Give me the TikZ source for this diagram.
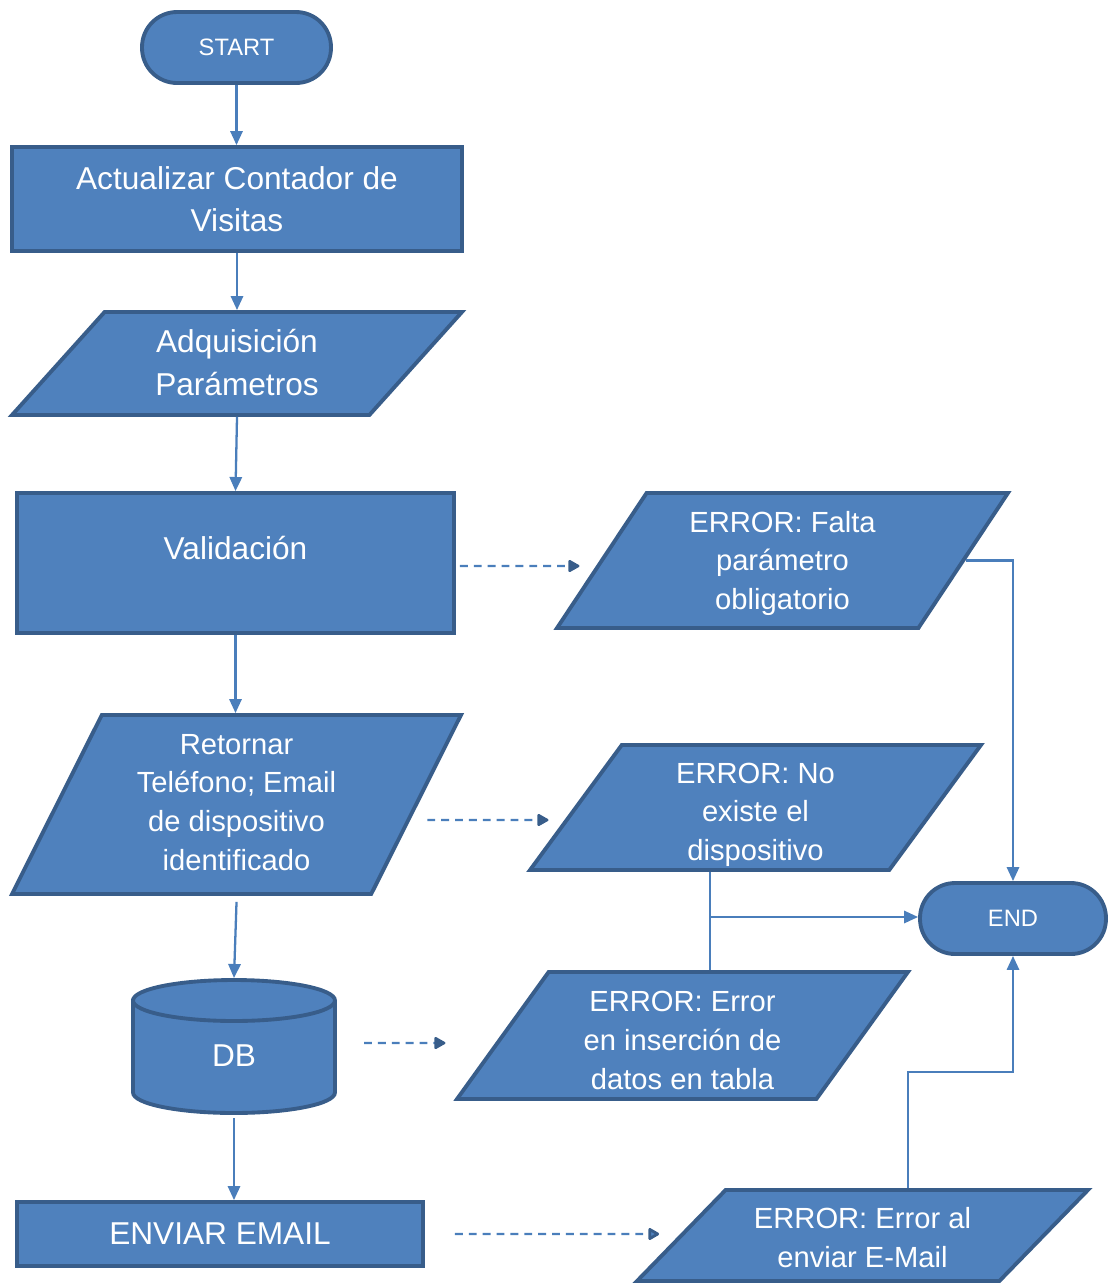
\documentclass[tikz,border=0pt]{standalone}
\usepackage{fontspec}
\setmainfont{Liberation Sans}
\usetikzlibrary{arrows.meta,shapes.geometric}
\definecolor{AzulRelleno}{RGB}{79,129,189}
\definecolor{AzulBorde}{RGB}{56,93,138}
\definecolor{AzulLinea}{RGB}{74,126,187}
\tikzset{
  basebox/.style={draw=AzulBorde, fill=AzulRelleno, line width=2.2pt,
    text=white, align=center, inner sep=3pt},
  termbox/.style={basebox, rectangle, rounded corners=0.7cm, minimum width=#1,
    minimum height=1.42cm, font=\fontsize{13.5}{16}\selectfont},
  procbox/.style 2 args={basebox, rectangle, minimum width=#1, minimum height=#2},
  iobox/.style n args={4}{basebox, trapezium, trapezium left angle=#1,
    trapezium right angle=#2, trapezium stretches body=true, minimum width=#3, minimum height=#4},
  cilindro/.style={draw=AzulBorde, fill=AzulRelleno, line width=2.2pt},
  dbtexto/.style={text=white, inner sep=0pt, outer sep=0pt,
    minimum width=4.12cm, minimum height=2.74cm},
  textogrande/.style={font=\fontsize{18}{24}\selectfont},
  textomedio/.style={font=\fontsize{16.6}{22}\selectfont},
  flecha/.style={-{Triangle[length=8pt, width=7pt]}, line width=1.3pt, AzulLinea},
  linea/.style={line width=1.3pt, AzulLinea},
  flechapunt/.style={-{Triangle[length=7pt, width=7.5pt, round, color=AzulBorde]},
    line width=1.3pt, AzulLinea, dash pattern=on 4.5pt off 3.4pt},
}

\begin{document}
\begin{tikzpicture}[x=0.02cm, y=-0.02cm]
  \useasboundingbox (0,0) rectangle (1109,1286);

  % columna principal
  \node[termbox=3.78cm] (start) at (236.5,47.5) {START};
  \node[procbox={9cm}{2.08cm}, textogrande] (actual) at (237,199) {Actualizar Contador de\\Visitas};
  \node[iobox={38.7}{141.3}{9cm}{2.06cm}, font=\fontsize{18}{24.4}\selectfont,
    text height=36.2pt, text depth=0pt] (adq) at (237,363.5) {Adquisición\\Parámetros};
  \node[procbox={8.74cm}{2.8cm}, textogrande, text height=0.44cm, text depth=0.6cm] (valid) at (235.5,563) {Validación};
  \node[iobox={57.7}{122.3}{8.98cm}{3.58cm}, textomedio, text height=74.8pt, text depth=0pt]
    (retornar) at (236.5,804.5) {Retornar\\Teléfono; Email\\de dispositivo\\identificado};

  % base de datos
  \filldraw[cilindro] (133,1000.5) -- (133,1092.5)
    arc[start angle=180, end angle=360, x radius=2.02cm, y radius=0.41cm] -- (335,1000.5)
    arc[start angle=0, end angle=180, x radius=2.02cm, y radius=0.41cm] -- cycle;
  \draw[cilindro, fill=none] (133,1000.5) arc[start angle=180, end angle=360, x radius=2.02cm, y radius=0.41cm];
  \node[dbtexto, textogrande, text height=22.6pt, text depth=0pt] (db) at (234,1046.5) {DB};

  \node[procbox={8.12cm}{1.28cm}, textogrande] (envio) at (220,1234) {ENVIAR EMAIL};

  % errores
  \node[iobox={50.4}{129.6}{9.02cm}{2.7cm}, textomedio, text height=55.6pt, text depth=0pt]
    (falta) at (782.5,560.5) {ERROR: Falta\\parámetro\\obligatorio};
  \node[iobox={51.7}{128.3}{9.02cm}{2.5cm}, textomedio, text height=60.1pt, text depth=0pt]
    (noexiste) at (755.5,807.5) {ERROR: No\\existe el\\dispositivo};
  \node[iobox={52.2}{127.8}{9.02cm}{2.54cm}, textomedio, text height=61.2pt, text depth=0pt]
    (errins) at (682.5,1035.5) {ERROR: Error\\en inserción de\\datos en tabla};
  \node[iobox={40}{140}{9.02cm}{1.82cm}, textomedio, text height=36.3pt, text depth=0pt]
    (errenv) at (862.5,1235.5) {ERROR: Error al\\enviar E-Mail};
  \node[termbox=3.72cm] (endn) at (1013,918.5) {END};

  \coordinate (jx) at (710,917);
  \coordinate (kx) at (908,1072);

  % flujo principal
  \draw[flecha] (start.south) -- (start.south |- actual.north);
  \draw[flecha] (actual.south) -- (actual.south |- adq.north);
  \draw[flecha] (adq.south) -- (valid.north);
  \draw[flecha] (valid.south) -- (valid.south |- retornar.north);
  \draw[flecha] ([shift={(0,6)}]retornar.south) -- (db.north);
  \draw[flecha] ([shift={(0,3)}]db.south) -- (db.south |- envio.north);

  % salidas de error
  \draw[flechapunt] ([shift={(4,3)}]valid.east) -- ([shift={(-20,5.5)}]falta.west);
  \draw[flechapunt] ([shift={(9,15.5)}]retornar.east) -- ([shift={(-25,12.5)}]noexiste.west);
  \draw[flechapunt] ([shift={(130,-3.5)}]db.center) -- ([shift={(-55,7.5)}]errins.west);
  \draw[flechapunt, -{Triangle[length=7pt, width=7.5pt, round, open, line width=1.6pt, color=AzulBorde, fill=AzulRelleno]}]
    ([shift={(30,0)}]envio.east) -- ([shift={(-19.5,-1.5)}]errenv.west);

  % hacia END
  \draw[flecha] (falta.east) -| (endn.north);
  \draw[linea] (noexiste.south -| jx) -- (errins.north -| jx);
  \draw[flecha] (jx) -- (jx -| endn.west);
  \draw[flecha] (errenv.north -| kx) -- (kx) -| (endn.south);
\end{tikzpicture}
\end{document}
